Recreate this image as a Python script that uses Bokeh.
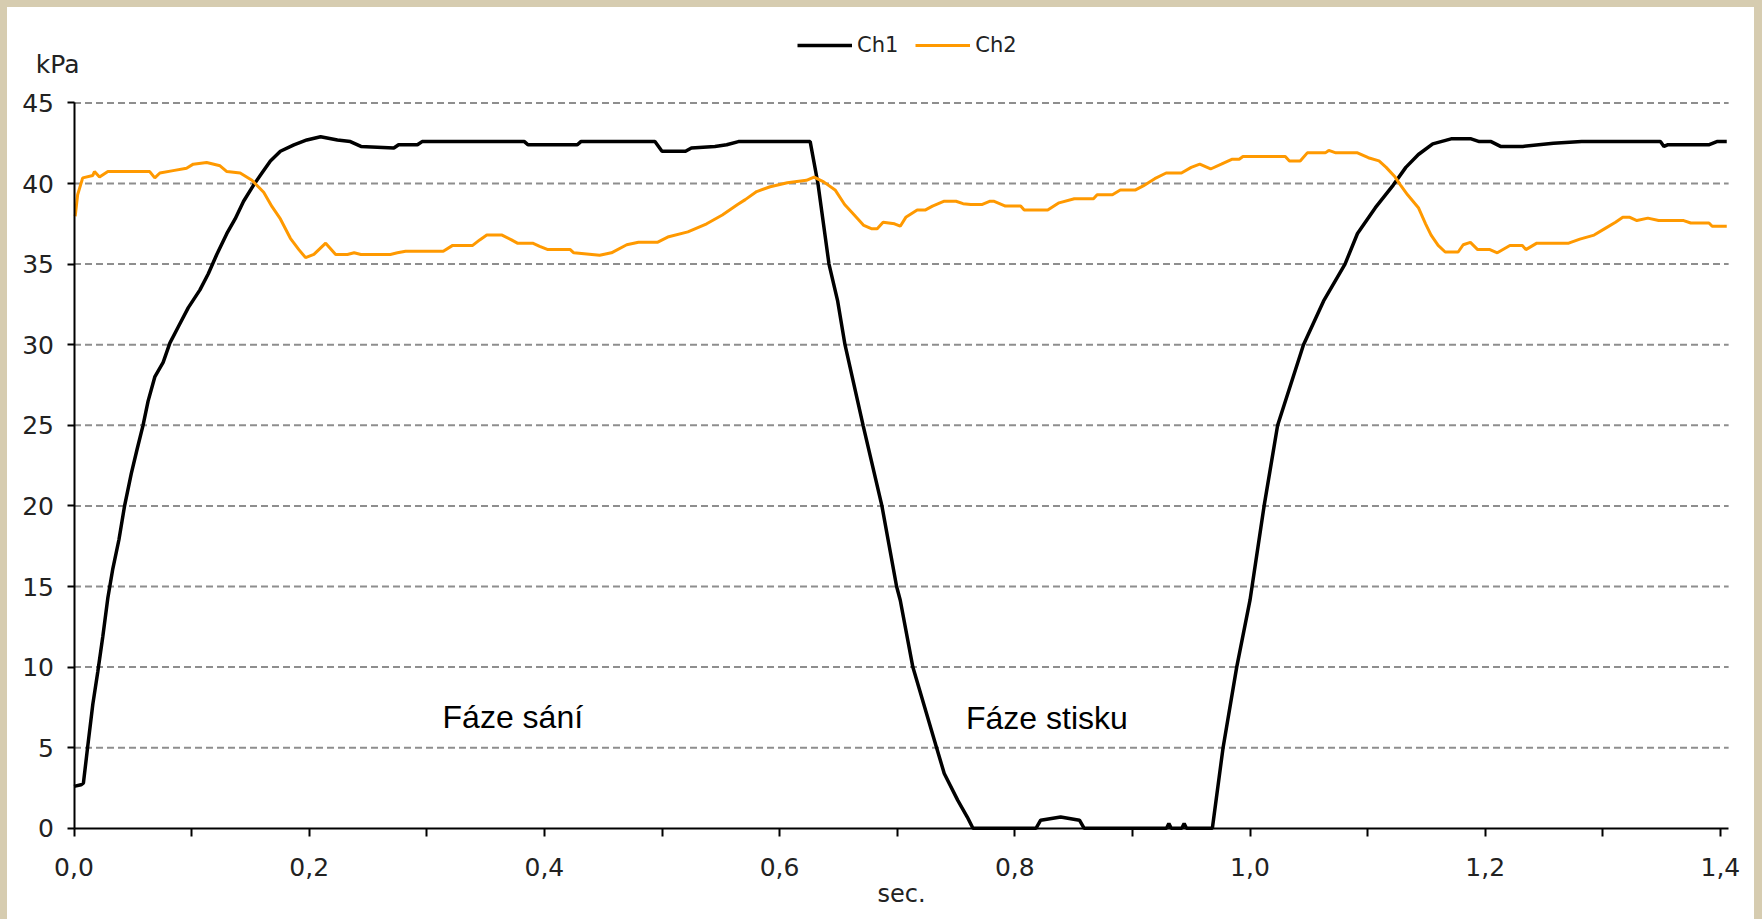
from bokeh.plotting import figure
from bokeh.models import (Range1d, FixedTicker, CustomJSTickFormatter, Legend,
                          LegendItem, Label)
from bokeh.embed import file_html
from bokeh.resources import INLINE

# ---------------- data ----------------
ch1_t = [0.000, 0.006, 0.008, 0.0117, 0.016, 0.0202, 0.0245, 0.0288, 0.033, 0.0382,
         0.043, 0.0487, 0.0536, 0.0587, 0.063, 0.0687, 0.0758, 0.0815, 0.0886, 0.0972,
         0.1071, 0.1142, 0.1214, 0.130, 0.137, 0.1442, 0.1527, 0.1598, 0.167, 0.1755,
         0.187, 0.198, 0.2097, 0.224, 0.235, 0.244, 0.272, 0.276, 0.292, 0.296,
         0.383, 0.386, 0.428, 0.431, 0.494, 0.500, 0.520, 0.525, 0.545, 0.555,
         0.565, 0.626, 0.6326, 0.642, 0.6494, 0.6556, 0.671, 0.687, 0.6995, 0.7026,
         0.7133, 0.7335, 0.740, 0.7514, 0.7596, 0.7644, 0.818, 0.822, 0.839, 0.855,
         0.859, 0.929, 0.931, 0.933, 0.942, 0.944, 0.946, 0.968, 0.9771, 0.9887,
         1.000, 1.012, 1.0235, 1.0455, 1.0625, 1.0808, 1.0914, 1.1066, 1.1218, 1.1325,
         1.1432, 1.1554, 1.171, 1.188, 1.195, 1.205, 1.213, 1.232, 1.258, 1.282,
         1.349, 1.352, 1.355, 1.390, 1.397, 1.4054]
ch1_kpa = [2.6, 2.7, 2.8, 5.1, 7.7, 9.7, 11.9, 14.3, 16.1, 17.9,
           20.0, 22.0, 23.5, 25.0, 26.5, 28.0, 28.9, 30.1, 31.1, 32.3,
           33.4, 34.4, 35.6, 36.9, 37.8, 38.9, 39.9, 40.65, 41.4, 42.0,
           42.4, 42.7, 42.9, 42.7, 42.6, 42.3, 42.2, 42.4, 42.4, 42.6,
           42.6, 42.4, 42.4, 42.6, 42.6, 42.0, 42.0, 42.2, 42.3, 42.4,
           42.6, 42.6, 40.0, 35.0, 32.7, 30.0, 25.0, 20.0, 15.0, 14.15,
           10.0, 5.0, 3.4, 1.75, 0.7, 0.0, 0.0, 0.5, 0.7, 0.5,
           0.0, 0.0, 0.3, 0.0, 0.0, 0.3, 0.0, 0.0, 5.0, 10.0,
           14.15, 20.0, 25.0, 30.0, 32.7, 35.0, 36.9, 38.5, 39.9, 41.0,
           41.8, 42.46, 42.77, 42.77, 42.6, 42.6, 42.3, 42.3, 42.5, 42.6,
           42.6, 42.3, 42.4, 42.4, 42.6, 42.6]

ch2_t = [0.001, 0.0031, 0.0074, 0.016, 0.0174, 0.0217, 0.0288, 0.0644, 0.0687, 0.073,
         0.0843, 0.0957, 0.1014, 0.1128, 0.1242, 0.130, 0.1413, 0.1513, 0.1613, 0.1684,
         0.1755, 0.184, 0.1912, 0.1969, 0.204, 0.214, 0.2225, 0.2325, 0.2382, 0.244,
         0.269, 0.275, 0.282, 0.314, 0.322, 0.339, 0.345, 0.351, 0.364, 0.372,
         0.377, 0.390, 0.396, 0.403, 0.422, 0.425, 0.447, 0.457, 0.470, 0.480,
         0.496, 0.5057, 0.522, 0.538, 0.5513, 0.5643, 0.5708, 0.5805, 0.592, 0.6066,
         0.6228, 0.6293, 0.6375, 0.6472, 0.6553, 0.6635, 0.6716, 0.678, 0.683, 0.688,
         0.6977, 0.7026, 0.7073, 0.717, 0.7237, 0.730, 0.740, 0.750, 0.756, 0.7625,
         0.7724, 0.779, 0.782, 0.792, 0.805, 0.808, 0.828, 0.8376, 0.8506, 0.8669,
         0.870, 0.883, 0.8897, 0.9027, 0.9092, 0.919, 0.9287, 0.9417, 0.950, 0.9573,
         0.9665, 0.9756, 0.9845, 0.9908, 0.994, 1.030, 1.0335, 1.0427, 1.0487, 1.064,
         1.067, 1.073, 1.0914, 1.1006, 1.1097, 1.1158, 1.1234, 1.128, 1.134, 1.1432,
         1.1493, 1.154, 1.160, 1.166, 1.177, 1.1813, 1.1874, 1.1936, 1.204, 1.2103,
         1.221, 1.2316, 1.2346, 1.2439, 1.271, 1.2805, 1.2926, 1.3017, 1.3108, 1.317,
         1.323, 1.329, 1.3383, 1.3475, 1.3688, 1.3748, 1.3903, 1.393, 1.4054]
ch2_kpa = [37.97, 39.3, 40.35, 40.5, 40.74, 40.4, 40.74, 40.74, 40.35, 40.65,
           40.8, 40.95, 41.2, 41.3, 41.1, 40.74, 40.65, 40.2, 39.46, 38.56,
           37.8, 36.6, 35.9, 35.4, 35.6, 36.3, 35.6, 35.6, 35.7, 35.6,
           35.6, 35.7, 35.8, 35.8, 36.16, 36.16, 36.5, 36.8, 36.8, 36.5,
           36.3, 36.3, 36.1, 35.9, 35.9, 35.7, 35.55, 35.7, 36.2, 36.35,
           36.35, 36.7, 37.0, 37.5, 38.05, 38.7, 39.0, 39.5, 39.8, 40.05,
           40.2, 40.4, 40.1, 39.6, 38.7, 38.05, 37.4, 37.2, 37.2, 37.6,
           37.5, 37.35, 37.9, 38.35, 38.35, 38.6, 38.9, 38.9, 38.75, 38.7,
           38.7, 38.9, 38.9, 38.6, 38.6, 38.35, 38.35, 38.8, 39.05, 39.05,
           39.3, 39.3, 39.6, 39.6, 39.85, 40.3, 40.65, 40.65, 41.0, 41.2,
           40.9, 41.2, 41.5, 41.5, 41.67, 41.67, 41.4, 41.4, 41.9, 41.9,
           42.05, 41.9, 41.9, 41.6, 41.4, 41.0, 40.4, 39.9, 39.3, 38.5,
           37.5, 36.8, 36.16, 35.75, 35.75, 36.2, 36.35, 35.9, 35.9, 35.7,
           36.15, 36.15, 35.9, 36.3, 36.3, 36.55, 36.8, 37.2, 37.6, 37.9,
           37.9, 37.7, 37.85, 37.7, 37.7, 37.55, 37.55, 37.35, 37.35]

series_names = ["Ch1", "Ch2"]
y_ticks = [0, 5, 10, 15, 20, 25, 30, 35, 40, 45]
x_ticks = [0.0, 0.1, 0.2, 0.3, 0.4, 0.5, 0.6, 0.7, 0.8, 0.9, 1.0, 1.1, 1.2, 1.3, 1.4]
x_tick_labels = ["0,0", "", "0,2", "", "0,4", "", "0,6", "", "0,8", "", "1,0", "",
                 "1,2", "", "1,4"]
y_unit = "kPa"
x_title = "sec."
phase_labels = ["Fáze sání", "Fáze stisku"]
x_min, x_max = 0.0, 1.407
y_min, y_max = 0, 45

# ---------------- figure ----------------
TICK_FONT = "DejaVu Sans"
BEIGE = "#d6ccb0"
W, H = 1747, 912
PX_X = 1176.0     # pixels per second
PX_Y = 16.12      # pixels per kPa
X0, Y0 = 66.5, 820.8   # canvas position of (0, 0)

p = figure(width=W, height=H, output_backend="svg", toolbar_location=None,
           x_range=Range1d(-X0 / PX_X, (W - X0) / PX_X),
           y_range=Range1d(-(H - Y0) / PX_Y, Y0 / PX_Y),
           min_border=0, min_border_left=0, min_border_right=0,
           min_border_top=0, min_border_bottom=0)
p.background_fill_color = "white"
p.border_fill_color = "white"
p.outline_line_color = None
p.styles = {"margin-left": "7px", "margin-top": "7px",
            "box-shadow": f"0 0 0 8px {BEIGE}"}

p.xgrid.visible = False
p.ygrid.visible = False
# horizontal dashed gridlines between the axis bounds
p.segment(x0=x_min, x1=x_max, y0=y_ticks[1:], y1=y_ticks[1:],
          line_color="#8e8e8e", line_width=2, line_dash="7 4")

for ax in (p.xaxis[0], p.yaxis[0]):
    ax.fixed_location = 0
    ax.axis_line_color = "black"
    ax.axis_line_width = 2
    ax.major_tick_line_color = "black"
    ax.major_tick_line_width = 2
    ax.major_tick_in = 0
    ax.minor_tick_line_color = None
    ax.major_label_text_font = TICK_FONT
    ax.major_label_text_font_size = "25px"
    ax.major_label_text_color = "#222222"

p.yaxis.bounds = (y_min, y_max)
p.yaxis.ticker = FixedTicker(ticks=y_ticks)
p.yaxis.major_tick_out = 7
p.yaxis.major_label_standoff = 13

p.xaxis.bounds = (x_min, x_max)
p.xaxis.ticker = FixedTicker(ticks=x_ticks)
p.xaxis.formatter = CustomJSTickFormatter(
    args=dict(xt=x_ticks, xl=x_tick_labels),
    code="""
let best = 0;
for (let i = 0; i < xt.length; i++) {
  if (Math.abs(xt[i] - tick) < Math.abs(xt[best] - tick)) best = i;
}
return xl[best];
""")
p.xaxis.major_tick_out = 8
p.xaxis.major_label_standoff = 22
p.xaxis.axis_label = x_title
p.xaxis.axis_label_text_font = TICK_FONT
p.xaxis.axis_label_text_font_size = "24px"
p.xaxis.axis_label_text_font_style = "normal"
p.xaxis.axis_label_text_color = "#222222"
p.xaxis.axis_label_standoff = 0

r1 = p.line(ch1_t, ch1_kpa, line_color="black", line_width=3.5)
r2 = p.line(ch2_t, ch2_kpa, line_color="#ff9900", line_width=3)

legend = Legend(items=[LegendItem(label=series_names[0], renderers=[r1]),
                       LegendItem(label=series_names[1], renderers=[r2])],
                location=(790, 862), orientation="horizontal",
                glyph_width=55, glyph_height=24, label_height=24,
                label_standoff=5, spacing=17, padding=0, margin=0,
                border_line_color=None, background_fill_alpha=0,
                label_text_font=TICK_FONT, label_text_font_size="21px",
                label_text_color="#222222")
p.add_layout(legend, "center")

p.add_layout(Label(x=-0.0325, y=47.4, text=y_unit, text_font=TICK_FONT,
                   text_font_size="25px", text_color="#222222",
                   text_baseline="alphabetic"))
p.add_layout(Label(x=0.3134, y=6.92, text=phase_labels[0], text_font="Liberation Sans",
                   text_font_size="32px", text_color="black",
                   text_baseline="alphabetic"))
p.add_layout(Label(x=0.7585, y=6.85, text=phase_labels[1], text_font="Liberation Sans",
                   text_font_size="32px", text_color="black",
                   text_baseline="alphabetic"))

open("out.html", "w").write(file_html(p, INLINE))
